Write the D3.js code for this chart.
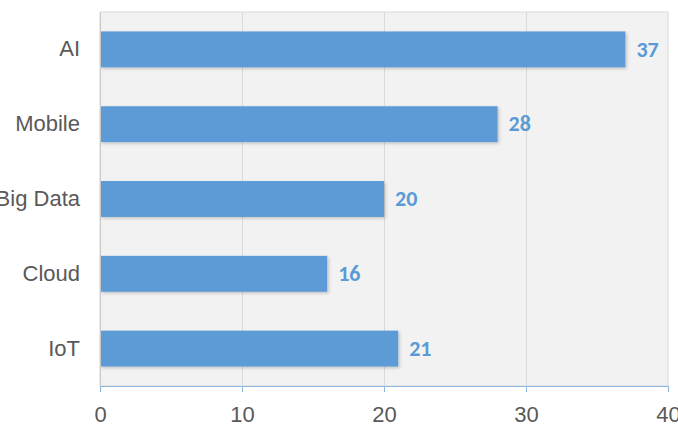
<!DOCTYPE html>
<html>
<head>
<meta charset="utf-8">
<script src="https://cdn.jsdelivr.net/npm/d3@7"></script>
<style>
  body { margin: 0; background: #fff; }
  svg { display: block; }
</style>
</head>
<body>
<svg id="chart"></svg>
<script>
(function() {
'use strict';

var categories = ['AI', 'Mobile', 'Big Data', 'Cloud', 'IoT'];
var values = [37, 28, 20, 16, 21];
var xTicks = [0, 10, 20, 30, 40];

var W = 678, H = 441;
var margin = { top: 12, right: 10, bottom: 55, left: 100 };
var w = W - margin.left - margin.right,
    h = H - margin.top - margin.bottom;

var svg = d3.select('#chart').attr('width', W).attr('height', H);

var defs = svg.append('defs');
var f = defs.append('filter').attr('id', 'shadow')
    .attr('x', '-5%').attr('y', '-20%').attr('width', '115%').attr('height', '150%');
f.append('feDropShadow')
    .attr('dx', 1.5).attr('dy', 1.5).attr('stdDeviation', 1.5)
    .attr('flood-color', '#000').attr('flood-opacity', 0.2);

var g = svg.append('g').attr('transform', 'translate(' + margin.left + ',' + margin.top + ')');

var x = d3.scaleLinear().domain([0, 40]).range([0, w]);
var y = d3.scaleBand().domain(categories).range([0, h]).paddingInner(0.52).paddingOuter(0.26);

// plot background
g.append('rect')
    .attr('width', w).attr('height', h)
    .attr('fill', '#f2f2f2')
    .attr('stroke', '#d9d9d9')
    .attr('stroke-width', 1);

// gridlines
g.append('g').selectAll('line')
    .data(xTicks.slice(1, -1))
    .enter().append('line')
    .attr('x1', function(d) { return x(d) + 0.5; })
    .attr('x2', function(d) { return x(d) + 0.5; })
    .attr('y1', 0).attr('y2', h)
    .attr('stroke', '#dadada');

// bars
g.append('g').selectAll('rect')
    .data(values)
    .enter().append('rect')
    .attr('x', 0)
    .attr('y', function(d, i) { return y(categories[i]); })
    .attr('width', function(d) { return x(d); })
    .attr('height', y.bandwidth())
    .attr('fill', '#5b9bd5')
    .attr('filter', 'url(#shadow)');

// value labels
g.append('g').selectAll('text')
    .data(values)
    .enter().append('text')
    .attr('x', function(d) { return x(d) + 11; })
    .attr('y', function(d, i) { return y(categories[i]) + y.bandwidth() / 2; })
    .attr('dy', '0.33em')
    .attr('font-family', 'Carlito, "Open Sans", sans-serif')
    .attr('font-weight', 'bold')
    .attr('font-size', 22)
    .attr('fill', '#5b9bd5')
    .text(function(d) { return d; });

// x axis
var xAxis = g.append('g')
    .attr('transform', 'translate(0,' + h + ')')
    .call(d3.axisBottom(x).tickValues(xTicks).tickSize(6).tickPadding(14));
xAxis.select('.domain').attr('stroke', '#8db8e2').attr('stroke-width', 1.2);
xAxis.selectAll('.tick line').attr('stroke', '#8db8e2');
xAxis.selectAll('.tick text')
    .attr('fill', '#595959')
    .attr('font-family', '"Liberation Sans", Arial, sans-serif')
    .attr('font-size', 22);

// y labels
var yAxis = g.append('g')
    .call(d3.axisLeft(y).tickSize(0).tickPadding(20));
yAxis.select('.domain').attr('stroke', '#c8c8c8');
yAxis.selectAll('.tick text')
    .attr('fill', '#595959')
    .attr('font-family', '"Liberation Sans", Arial, sans-serif')
    .attr('font-size', 22);

})();
</script>
</body>
</html>
